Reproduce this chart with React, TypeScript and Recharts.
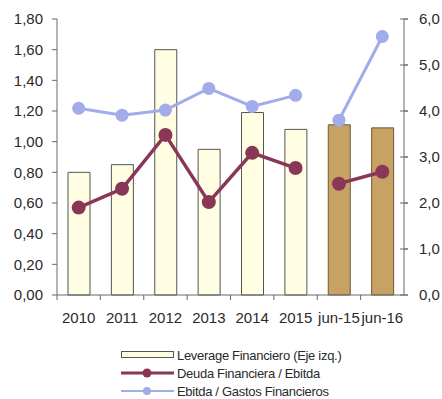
import { ComposedChart, Bar, Line, XAxis, YAxis, Cell } from "recharts";

const categories = ["2010", "2011", "2012", "2013", "2014", "2015", "jun-15", "jun-16"];
const leverage = [0.8, 0.85, 1.6, 0.95, 1.19, 1.08, 1.11, 1.09];
const deudaEbitda = [1.9, 2.31, 3.48, 2.02, 3.09, 2.76, 2.42, 2.68];
const ebitdaGastos = [4.06, 3.91, 4.02, 4.49, 4.1, 4.34, 3.8, 5.62];
// partial-year periods drawn in tan and as a separate line segment
const interim = [false, false, false, false, false, false, true, true];
const leftTicks = [0, 0.2, 0.4, 0.6, 0.8, 1.0, 1.2, 1.4, 1.6, 1.8];
const rightTicks = [0, 1, 2, 3, 4, 5, 6];

const FONT = "'Liberation Sans', Arial, sans-serif";
const AXIS = "#6a6a6a";
const TEXT = "#2a2a2a";
const CREAM = "#FFFDE2";
const TAN = "#C7A262";
const MAROON = "#8A3656";
const BLUE = "#A2ACEA";

const data = categories.map((c, i) => ({
  name: c,
  leverage: leverage[i],
  deudaA: interim[i] ? null : deudaEbitda[i],
  deudaB: interim[i] ? deudaEbitda[i] : null,
  ebitdaA: interim[i] ? null : ebitdaGastos[i],
  ebitdaB: interim[i] ? ebitdaGastos[i] : null,
}));

const fmt = (v: number, d: number) => v.toFixed(d).replace(".", ",");

function XTick(props: any) {
  const { x, y, payload } = props;
  const half = payload.offset ?? 21.7;
  return (
    <g>
      <line x1={x - half} x2={x - half} y1={y - 12} y2={y - 7} stroke={AXIS} />
      <text x={x} y={y + 16} textAnchor="middle" fontSize={15} fill={TEXT} fontFamily={FONT}>
        {payload.value}
      </text>
    </g>
  );
}

function RightTick(props: any) {
  const { x, y, payload } = props;
  return (
    <g>
      <line x1={x - 19} x2={x - 11} y1={y} y2={y} stroke={AXIS} />
      <text x={x} y={y + 5} fontSize={15} fill={TEXT} fontFamily={FONT}>
        {fmt(payload.value, 1)}
      </text>
    </g>
  );
}

function LegendBox() {
  const row = { display: "flex", alignItems: "center", height: 18 } as const;
  const label = { fontSize: 13, letterSpacing: -0.3, color: TEXT, fontFamily: FONT, marginLeft: 3 };
  return (
    <div style={{ position: "absolute", left: 121, top: 346 }}>
      <div style={row}>
        <svg width={53} height={10}>
          <rect x={0.5} y={1.5} width={52} height={6} fill={CREAM} stroke="#555" />
        </svg>
        <span style={label}>Leverage Financiero (Eje izq.)</span>
      </div>
      <div style={row}>
        <svg width={53} height={12}>
          <line x1={0} x2={53} y1={6} y2={6} stroke={MAROON} strokeWidth={3} />
          <circle cx={26} cy={6} r={4.5} fill={MAROON} />
        </svg>
        <span style={label}>Deuda Financiera / Ebitda</span>
      </div>
      <div style={row}>
        <svg width={53} height={12}>
          <line x1={0} x2={53} y1={6} y2={6} stroke={BLUE} strokeWidth={2} />
          <circle cx={26} cy={6} r={4} fill={BLUE} />
        </svg>
        <span style={label}>Ebitda / Gastos Financieros</span>
      </div>
    </div>
  );
}

export default function App() {
  return (
    <div style={{ position: "absolute", left: 0, top: 0, width: 442, height: 399, background: "#fff" }}>
      <ComposedChart
        width={442}
        height={399}
        data={data}
        margin={{ top: 19, right: 0, bottom: 74, left: 0 }}
      >
        <XAxis
          dataKey="name"
          height={30}
          tickLine={false}
          tickSize={0}
          tickMargin={12}
          interval={0}
          stroke={AXIS}
          tick={<XTick />}
        />
        <YAxis
          yAxisId="left"
          width={57}
          domain={[0, 1.8]}
          ticks={leftTicks}
          interval={0}
          tickSize={5}
          tickMargin={9}
          stroke={AXIS}
          tick={{ fontSize: 15, fill: TEXT, fontFamily: FONT }}
          tickFormatter={(v: number) => fmt(v, 2)}
        />
        <YAxis
          yAxisId="right"
          orientation="right"
          width={38}
          domain={[0, 6]}
          ticks={rightTicks}
          interval={0}
          tickSize={4}
          tickMargin={11}
          stroke={AXIS}
          tick={<RightTick />}
        />
        <Bar
          yAxisId="left"
          dataKey="leverage"
          barSize={22}
          stroke="#555"
          strokeWidth={1}
          isAnimationActive={false}
        >
          {data.map((_, i) => (
            <Cell key={i} fill={interim[i] ? TAN : CREAM} stroke={interim[i] ? "#6e5a3a" : "#555"} />
          ))}
        </Bar>
        {[
          { key: "ebitdaA", color: BLUE, w: 3, r: 6.5 },
          { key: "ebitdaB", color: BLUE, w: 3, r: 6.5 },
          { key: "deudaA", color: MAROON, w: 3.5, r: 7 },
          { key: "deudaB", color: MAROON, w: 3.5, r: 7 },
        ].map((s) => (
          <Line
            key={s.key}
            yAxisId="right"
            dataKey={s.key}
            stroke={s.color}
            strokeWidth={s.w}
            dot={{ r: s.r, fill: s.color, stroke: s.color, strokeWidth: 0 }}
            activeDot={false}
            connectNulls={false}
            isAnimationActive={false}
          />
        ))}
      </ComposedChart>
      <LegendBox />
    </div>
  );
}
